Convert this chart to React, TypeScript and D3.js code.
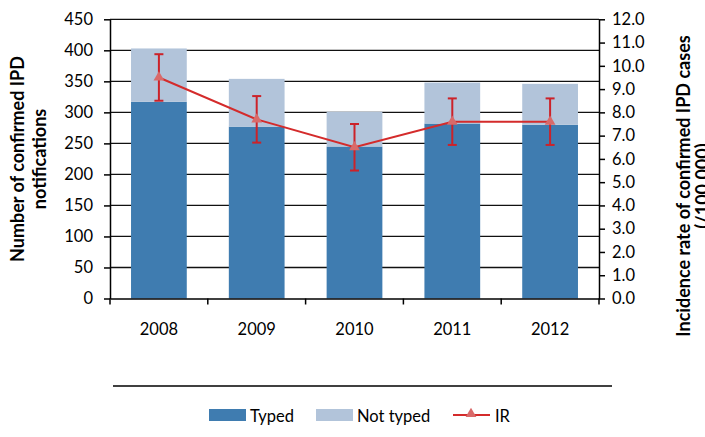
import React, { useEffect, useRef } from 'react';
import * as d3 from 'd3';

const years = ['2008', '2009', '2010', '2011', '2012'];
const typed = [317, 277, 245, 282, 280];
const notTyped = [86, 77, 56, 66, 66];
const ir = [9.5, 7.7, 6.5, 7.6, 7.6];
const irLow = [8.5, 6.7, 5.5, 6.6, 6.6];
const irHigh = [10.5, 8.7, 7.5, 8.6, 8.6];
const leftTicks = [0, 50, 100, 150, 200, 250, 300, 350, 400, 450];
const rightTicks = [0, 1, 2, 3, 4, 5, 6, 7, 8, 9, 10, 11, 12];

const FONT = 'Lato, "Open Sans", sans-serif';
const TYPED_COLOR = '#3f7cb0';
const NOT_TYPED_COLOR = '#b2c4da';
const LINE_COLOR = '#d42b2b';
const MARKER_COLOR = '#d96a6a';

const App: React.FC = () => {
  const svgRef = useRef<SVGSVGElement | null>(null);

  useEffect(() => {
    const svg = d3.select(svgRef.current);
    svg.selectAll('*').remove();

    const left = 110, right = 599, top = 19.3, bottom = 298.5;

    const x = d3.scaleBand().domain(years).range([left, right]).paddingInner(0.43).paddingOuter(0.215);
    const xBand = d3.scaleBand().domain(years).range([left, right]);
    const yL = d3.scaleLinear().domain([0, 450]).range([bottom, top]);
    const yR = d3.scaleLinear().domain([0, 12]).range([bottom, top]);

    // gridlines
    svg.append('g')
      .selectAll('line')
      .data(leftTicks.slice(1))
      .enter()
      .append('line')
      .attr('x1', left)
      .attr('x2', right)
      .attr('y1', d => yL(d))
      .attr('y2', d => yL(d))
      .attr('stroke', '#111')
      .attr('stroke-width', 1.3);

    // stacked bars
    const bars = svg.append('g');
    years.forEach((yr, i) => {
      bars.append('rect')
        .attr('x', x(yr)!)
        .attr('width', x.bandwidth())
        .attr('y', yL(typed[i]))
        .attr('height', yL(0) - yL(typed[i]))
        .attr('fill', TYPED_COLOR);
      bars.append('rect')
        .attr('x', x(yr)!)
        .attr('width', x.bandwidth())
        .attr('y', yL(typed[i] + notTyped[i]))
        .attr('height', yL(typed[i]) - yL(typed[i] + notTyped[i]))
        .attr('fill', NOT_TYPED_COLOR);
    });

    // axes
    const axisL = svg.append('g')
      .attr('transform', `translate(${left},0)`)
      .call(d3.axisLeft(yL).tickValues(leftTicks).tickSize(6).tickSizeOuter(0));
    const axisR = svg.append('g')
      .attr('transform', `translate(${right},0)`)
      .call(d3.axisRight(yR).tickValues(rightTicks).tickSize(6).tickSizeOuter(0).tickFormat(d3.format('.1f')));
    const axisB = svg.append('g')
      .attr('transform', `translate(0,${bottom})`)
      .call(d3.axisBottom(xBand).tickSize(0).tickSizeOuter(0));

    [axisL, axisR, axisB].forEach(g => {
      g.select('.domain').attr('stroke', '#000').attr('stroke-width', 1.5);
      g.selectAll('.tick line').attr('stroke', '#000').attr('stroke-width', 1.5);
      g.selectAll('.tick text')
        .attr('fill', '#000')
        .style('font-family', FONT)
        .style('font-size', '16.5px');
    });
    axisL.selectAll('.tick text').attr('x', -17);
    axisR.selectAll('.tick text').attr('x', 13);
    axisB.selectAll('.tick text').attr('y', 0).attr('dy', '2.2em');

    // category boundary ticks on x axis
    axisB.selectAll('.sep')
      .data([...years.map(yr => xBand(yr)!), right])
      .enter()
      .append('line')
      .attr('x1', d => d)
      .attr('x2', d => d)
      .attr('y1', 0)
      .attr('y2', 6)
      .attr('stroke', '#000')
      .attr('stroke-width', 1.5);

    // IR line with error bars
    const cx = (i: number) => xBand(years[i])! + xBand.bandwidth() / 2;
    const errs = svg.append('g');
    years.forEach((_, i) => {
      errs.append('line')
        .attr('x1', cx(i)).attr('x2', cx(i))
        .attr('y1', yR(irLow[i])).attr('y2', yR(irHigh[i]))
        .attr('stroke', '#cc2229').attr('stroke-width', 2);
      [irLow[i], irHigh[i]].forEach(v => {
        errs.append('line')
          .attr('x1', cx(i) - 4.5).attr('x2', cx(i) + 4.5)
          .attr('y1', yR(v)).attr('y2', yR(v))
          .attr('stroke', '#cc2229').attr('stroke-width', 2);
      });
    });

    const line = d3.line<number>()
      .x((_, i) => cx(i))
      .y(d => yR(d));
    svg.append('path')
      .datum(ir)
      .attr('d', line)
      .attr('fill', 'none')
      .attr('stroke', LINE_COLOR)
      .attr('stroke-width', 2);

    const tri = d3.symbol().type(d3.symbolTriangle).size(50);
    svg.append('g')
      .selectAll('path')
      .data(ir)
      .enter()
      .append('path')
      .attr('d', tri)
      .attr('transform', (d, i) => `translate(${cx(i)},${yR(d)})`)
      .attr('fill', MARKER_COLOR);

    // axis titles
    const leftTitle = svg.append('text')
      .attr('transform', `translate(24,159) rotate(-90)`)
      .attr('text-anchor', 'middle')
      .style('font-family', FONT)
      .style('font-size', '18px')
      .style('font-weight', 'bold')
      .attr('fill', '#000');
    leftTitle.append('tspan').attr('x', 0).attr('dy', 0).text('Number of confirmed IPD');
    leftTitle.append('tspan').attr('x', 0).attr('dy', 22).text('notifications');

    const rightTitle = svg.append('text')
      .attr('transform', `translate(690,186) rotate(-90)`)
      .attr('text-anchor', 'middle')
      .style('font-family', FONT)
      .style('font-size', '18px')
      .style('font-weight', 'bold')
      .attr('fill', '#000');
    rightTitle.append('tspan').attr('x', 0).attr('dy', 0).text('Incidence rate of confirmed IPD cases');
    rightTitle.append('tspan').attr('x', 0).attr('dy', 19).text('(/100 000)');

    // separator line
    svg.append('line')
      .attr('x1', 113).attr('x2', 612)
      .attr('y1', 386).attr('y2', 386)
      .attr('stroke', '#000').attr('stroke-width', 1.5);

    // legend
    const lg = svg.append('g').style('font-family', FONT).style('font-size', '16.5px');
    lg.append('rect').attr('x', 209).attr('y', 409).attr('width', 37).attr('height', 12).attr('fill', TYPED_COLOR);
    lg.append('text').attr('x', 250).attr('y', 421.5).text('Typed');
    lg.append('rect').attr('x', 316).attr('y', 409).attr('width', 37).attr('height', 12).attr('fill', NOT_TYPED_COLOR);
    lg.append('text').attr('x', 357).attr('y', 421.5).text('Not typed');
    lg.append('line').attr('x1', 453).attr('x2', 490).attr('y1', 415).attr('y2', 415)
      .attr('stroke', LINE_COLOR).attr('stroke-width', 2);
    lg.append('path').attr('d', tri).attr('transform', 'translate(471,414)').attr('fill', MARKER_COLOR);
    lg.append('text').attr('x', 495).attr('y', 421.5).text('IR');
  }, []);

  return (
    <div style={{ position: 'absolute', left: 0, top: 0 }}>
      <svg ref={svgRef} width={705} height={437} style={{ display: 'block', background: '#fff' }}></svg>
    </div>
  );
};

export default App;
